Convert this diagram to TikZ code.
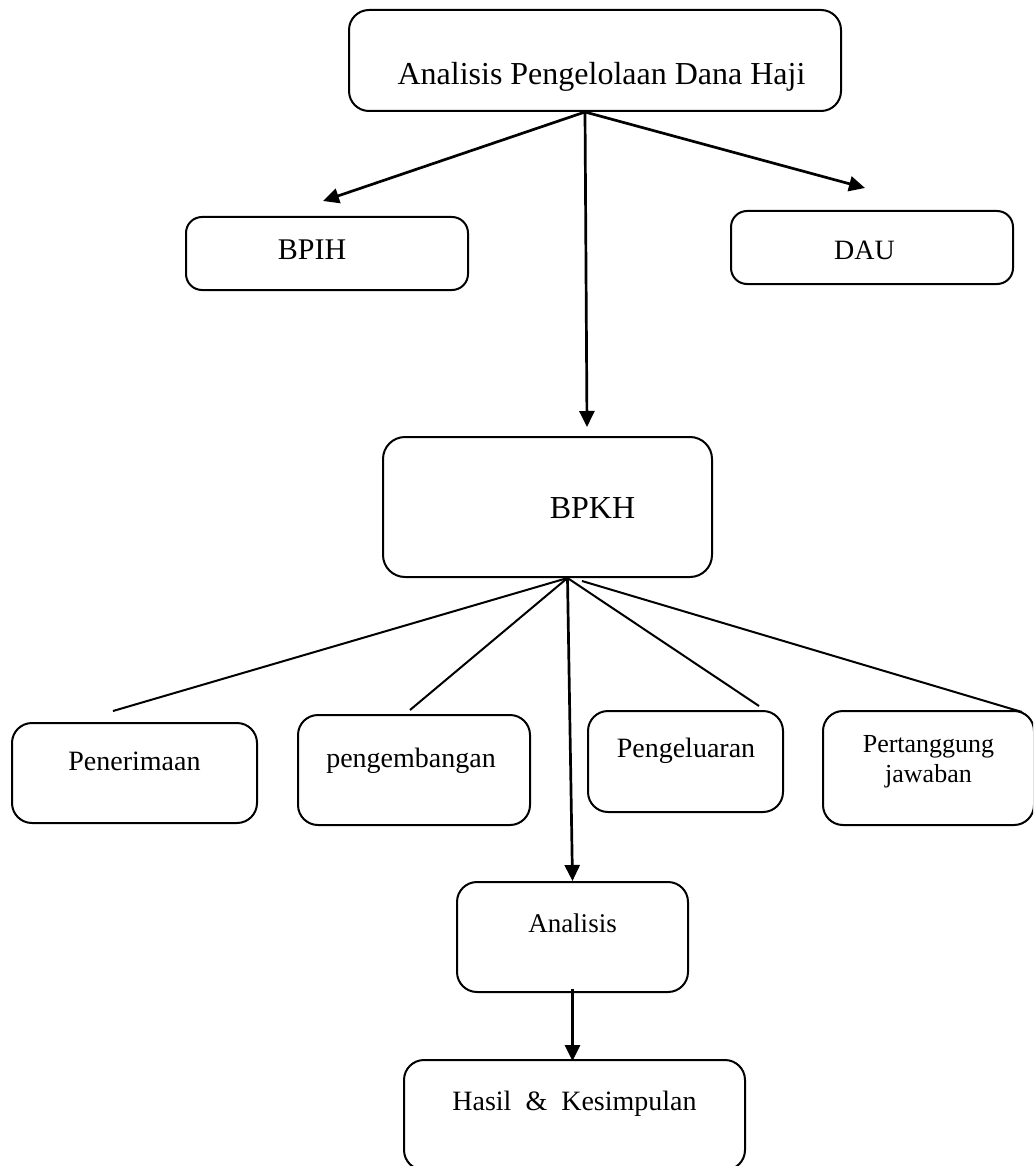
\documentclass[tikz,border=0pt]{standalone}
\usepackage{fontspec}
\setmainfont{Liberation Serif}
\usetikzlibrary{arrows.meta,calc}
\begin{document}
\begin{tikzpicture}[x=1pt,y=-1pt,
  box/.style={draw, line width=2pt, rounded corners=#1, inner sep=0pt},
  box/.default=20pt,
  txt/.style={anchor=base, inner sep=0pt, font=\fontsize{#1}{#1}\selectfont},
  txt/.default=28,
  arr/.style={line width=2.7pt, -{Triangle[length=16pt,width=15pt]}},
  ln/.style={line width=2pt}]
\useasboundingbox (0,0) rectangle (1033,1166);
\clip (0,0) rectangle (1033,1166);
% boxes
\node[box, minimum width=492, minimum height=101] (top) at (595,60.5) {};
\node[box=16pt, minimum width=282, minimum height=73] (bpih) at (327,253.5) {};
\node[box=16pt, minimum width=282, minimum height=73] (dau) at (872,247.5) {};
\node[box=22pt, minimum width=329, minimum height=140] (bpkh) at (547.5,507) {};
\node[box, minimum width=245, minimum height=100] (pen) at (134.5,773) {};
\node[box, minimum width=232, minimum height=110] (peng) at (414,770) {};
\node[box, minimum width=195, minimum height=101] (pkel) at (685.5,761.5) {};
\node[box, minimum width=211, minimum height=114] (pert) at (928.5,768) {};
\node[box, minimum width=231, minimum height=110] (ana) at (572.5,937) {};
\node[box, minimum width=341, minimum height=110] (has) at (574.5,1115) {};
% texts
\node[txt=32] (ttop) at (601.5,85) {Analisis Pengelolaan Dana Haji};
\node[txt=30] (tbpih) at (312,259) {BPIH};
\node[txt=28] (tdau) at (864.5,259) {DAU};
\node[txt=32] (tbpkh) at (592.5,518) {BPKH};
\node[txt] (tpen) at (134.5,770) {Penerimaan};
\node[txt] (tpeng) at (411,767) {pengembangan};
\node[txt] (tpkel) at (686,757) {Pengeluaran};
\node[txt=26] (tpert) at (928.5,752) {Pertanggung};
\node[txt=26] (tpert2) at (928.5,782) {jawaban};
\node[txt=27] (tana) at (572.5,932) {Analisis};
\node[txt=28] (thas) at (574.5,1110) {Hasil~~\&~~Kesimpulan};
% connectors
\coordinate (o1) at ($(top.south)+(-10,0)$);
\coordinate (e1) at (323,201);
\coordinate (e2) at (587,427);
\coordinate (e3) at (865,188);
\draw[arr] (o1) -- (e1);
\draw[arr] (o1) -- (e2);
\draw[arr] (o1) -- (e3);
\coordinate (o2) at ($(bpkh.south)+(20,0)$);
\coordinate (o3) at ($(bpkh.south)+(34.5,3)$);
\coordinate (f1) at (113,711);
\coordinate (f2) at (410,710);
\coordinate (f4) at (759,706);
\coordinate (f5) at (1022,712);
\draw[ln] (o2) -- (f1);
\draw[ln] (o2) -- (f2);
\draw[arr] (o2) -- (ana.north);
\draw[ln] (o2) -- (f4);
\draw[ln] (o3) -- (f5);
\coordinate (o4) at ($(ana.south)+(0,-4)$);
\coordinate (f6) at ($(has.north)+(-2,2)$);
\draw[arr] (o4) -- (f6);
\end{tikzpicture}
\end{document}
